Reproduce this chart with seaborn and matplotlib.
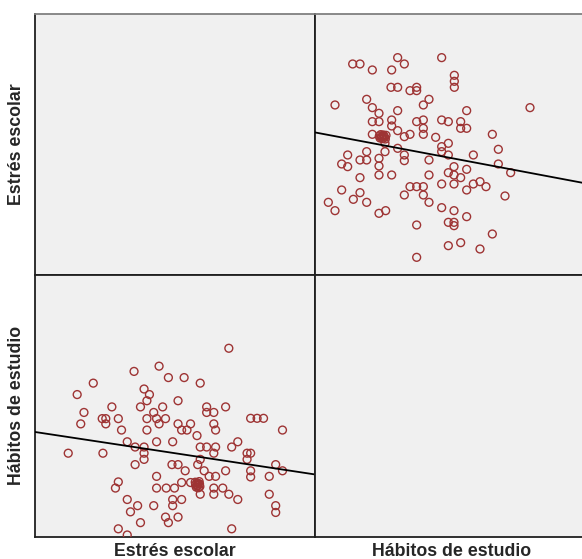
import numpy as np
import pandas as pd
import matplotlib
matplotlib.use("Agg")
import matplotlib.pyplot as plt
import seaborn as sns

sns.set_style("white")
plt.rcParams['font.family'] = ['Liberation Sans', 'DejaVu Sans']

var_names = ["Estrés escolar", "Hábitos de estudio"]

habitos = [12.8, 15.0, 26.3, 28.3, 18.7, 24.5, 39.5, 43.3, 43.3, 43.3,
           24.3, 26.3, 30.0, 32.0, 32.0, 17.0, 35.7, 34.0, 7.5, 18.7,
           20.7, 26.3, 47.0, 66.0, 18.7, 20.7, 24.5, 24.5, 32.0, 34.0,
           34.0, 34.0, 39.5, 41.5, 45.2, 45.2, 47.0, 18.7,
           20.8, 21.2, 21.6, 22.0, 22.4, 22.8, 21.0, 21.8, 22.6, 21.4, 22.2,
           26.3, 28.3, 30.0, 37.7, 54.7, 22.5, 22.5, 26.3, 28.3, 28.3,
           17.0, 39.5, 39.5, 41.5, 41.5, 56.5, 11.3, 9.5, 11.3, 15.0,
           17.0, 20.7, 20.7, 49.0, 35.7, 56.5, 60.2, 43.2, 41.5, 43.2,
           45.2, 47.0, 20.7, 24.5, 15.0, 35.7, 49.0, 51.0, 52.8, 47.0,
           39.5, 43.2, 30.0, 32.0, 34.0, 28.3, 34.0, 35.7, 9.5, 15.0,
           13.0, 17.0, 5.5, 7.5, 58.5, 39.5, 43.2, 47.0, 20.7, 22.7,
           32.0, 41.5, 43.2, 43.2, 54.7, 41.5, 45.2, 51.0, 32.0]

estres = [61.8, 61.8, 63.7, 61.8, 60.0, 60.0, 63.7, 58.4, 56.6, 54.8,
          54.8, 54.8, 53.8, 54.8, 53.8, 51.2, 51.2, 49.5, 49.5, 48.7,
          47.0, 47.8, 47.8, 48.7, 44.5, 44.5, 45.0, 43.2, 44.5, 45.0,
          42.5, 40.7, 45.0, 44.5, 44.5, 42.5, 42.5, 40.7,
          40.2, 40.6, 40.0, 40.5, 39.8, 40.4, 39.6, 39.4, 39.3, 39.9, 40.1,
          41.8, 40.0, 40.7, 39.8, 40.7, 38.0, 35.5, 36.5, 34.5, 32.8,
          35.5, 37.0, 35.5, 38.0, 34.5, 36.2, 34.5, 31.8, 31.0, 33.0,
          33.0, 33.5, 31.2, 34.5, 33.0, 31.8, 29.2, 31.0, 29.2, 28.5,
          27.7, 30.2, 28.5, 28.5, 27.7, 28.5, 25.8, 26.5, 25.0, 24.0,
          25.8, 25.8, 25.0, 25.0, 25.0, 22.5, 22.5, 20.3, 24.0, 23.2,
          21.2, 20.3, 20.3, 17.8, 22.2, 18.7, 17.8, 16.0, 17.0, 17.8,
          13.5, 14.3, 14.3, 13.3, 10.8, 7.3, 8.2, 6.3, 3.8]

df = pd.DataFrame({var_names[0]: estres, var_names[1]: habitos})

W, H = 582, 559
fig = plt.figure(figsize=(W / 100, H / 100), dpi=100)
fig.patch.set_facecolor("white")

x0, xm, x1 = 35, 314.5, 594
y0, ym, y1 = 14.3, 274.5, 536.5

def add(px_l, px_r, py_t, py_b):
    return fig.add_axes([px_l / W, 1 - py_b / H, (px_r - px_l) / W, (py_b - py_t) / H])

ax_tl = add(x0, xm, y0, ym)
ax_tr = add(xm, x1, y0, ym)
ax_bl = add(x0, xm, ym, y1)
ax_br = add(xm, x1, ym, y1)

bg = "#f0f0f0"
edge = "#9e3434"

lims = {
    "tr": ((1.35, 85.2), (-1.35, 76.7)),
    "bl": ((-5.49, 72.65), (5.01, 89.9)),
}

def panel(ax, xcol, ycol, key):
    xl, yl = lims[key]
    ax.set_xlim(*xl)
    ax.set_ylim(*yl)
    sns.scatterplot(data=df, x=xcol, y=ycol, ax=ax, marker="o", s=32,
                    facecolor="none", edgecolor=edge, linewidth=1.0,
                    legend=False, zorder=3)
    ax.set_xlim(*xl)
    ax.set_ylim(*yl)
    sns.regplot(data=df, x=xcol, y=ycol, ax=ax, scatter=False, ci=None,
                truncate=False, line_kws=dict(color="black", lw=1.3, zorder=4))
    ax.set_xlim(*xl)
    ax.set_ylim(*yl)

panel(ax_tr, var_names[1], var_names[0], "tr")
panel(ax_bl, var_names[0], var_names[1], "bl")

for ax in (ax_tl, ax_tr, ax_bl, ax_br):
    ax.set_facecolor(bg)
    ax.set_xticks([])
    ax.set_yticks([])
    ax.set_xlabel("")
    ax.set_ylabel("")
    for s in ax.spines.values():
        s.set_color("#202020")
        s.set_linewidth(1.3)
        s.set_visible(True)

for ax in (ax_tl, ax_tr):
    ax.spines["top"].set_color("#808080")

fs = 12.8
fig.text(17 / W, 1 - 144.4 / H, var_names[0], rotation=90, ha="center", va="center",
         fontsize=fs, fontweight="bold")
fig.text(17 / W, 1 - 405.5 / H, var_names[1], rotation=90, ha="center", va="center",
         fontsize=fs, fontweight="bold")
fig.text(175 / W, 1 - 551 / H, var_names[0], ha="center", va="center",
         fontsize=fs, fontweight="bold")
fig.text(452 / W, 1 - 551 / H, var_names[1], ha="center", va="center",
         fontsize=fs, fontweight="bold")

fig.savefig("out.png", dpi=100, facecolor="white")
